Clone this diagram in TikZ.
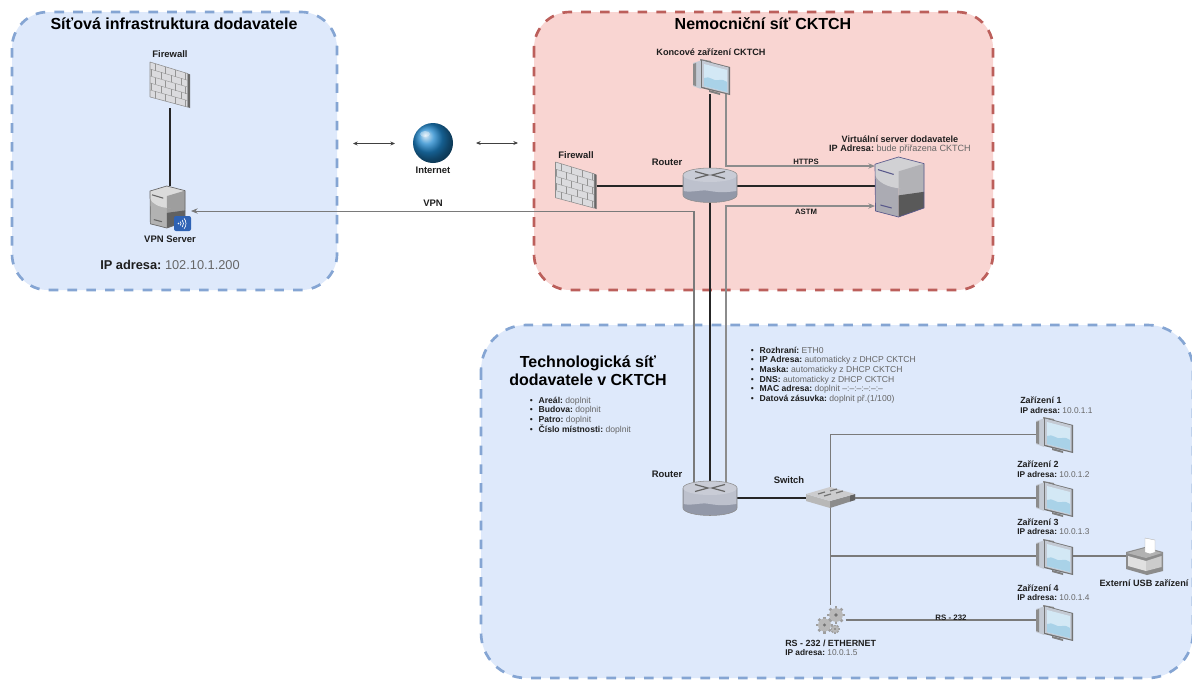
\documentclass[tikz,border=0pt]{standalone}
\usepackage{fontspec}
\setmainfont{Liberation Sans}
\usetikzlibrary{arrows.meta,calc}
\definecolor{blueFill}{HTML}{DEE9FB}
\definecolor{blueLine}{HTML}{85A5D3}
\definecolor{redFill}{HTML}{F9D5D2}
\definecolor{redLine}{HTML}{BC5F5B}
\definecolor{txtBold}{HTML}{1E1E1E}
\definecolor{txtGrey}{HTML}{666666}
\definecolor{wireDark}{HTML}{7A7A7A}
\definecolor{wireGrey}{HTML}{8C8C8C}
\definecolor{rtTop}{HTML}{C9CCD6}
\definecolor{rtBody}{HTML}{BDC1CD}
\definecolor{rtLow}{HTML}{9298A8}
\definecolor{scrA}{HTML}{D3E8F5}
\definecolor{scrB}{HTML}{A9D2E8}
\definecolor{frameC}{HTML}{C4CAD4}
\definecolor{globeC}{HTML}{1E86CC}
\definecolor{badgeC}{HTML}{2E62B4}
\newcommand{\fs}[1]{\fontsize{#1}{#1}\selectfont}
\newcommand{\kv}[2]{\textbf{\textcolor{txtBold}{#1:}}\ \textcolor{txtGrey}{#2}}
\newcommand{\bul}[2]{\textcolor{txtBold}{•}\hspace{4.4pt}\kv{#1}{#2}}
\newcommand{\srvshape}[5]{%
  \fill[#1] (0,12)--(48,22)--(48,100)--(1,90)--cycle;
  \fill[#3] (48,22)--(100,11)--(100,62)--(48,70)--cycle;
  \fill[#4] (48,64)--(100,58)--(100,85)--(48,100)--cycle;
  \fill[#2] (0,12)--(48,0)--(100,11)--(100,30)..controls (96,58) and (70,54) .. (48,52)..controls (25,50) and (6,42)..(0,30)--cycle;
  \fill[#3] (48,24)--(100,11)--(100,55)..controls (90,60) and (70,56)..(48,52)--cycle;
  \draw[#5,line width=.5pt,line join=round] (0,12)--(48,0)--(100,11)--(100,85)--(48,100)--(1,90)--cycle;
  \draw[#5,line width=.8pt] (6,21)--(38,29);
  \draw[#5,line width=.8pt] (11,80)--(34,85);
}
\tikzset{
  x=.75pt,y=-.75pt,
  zonebox/.style={line width=2pt,dash pattern=on 7.2pt off 6.9pt},
  ico/.style 2 args={rectangle,minimum width=#1*.75pt,minimum height=#2*.75pt,inner sep=0pt,outer sep=0pt},
  titletxt/.style={inner sep=0pt,text=black,align=center,font=\bfseries\fs{#1}},
  lbl/.style={inner sep=0pt,text=txtBold,font=\bfseries\fs{7.1}},
  lblS/.style={inner sep=0pt,text=txtBold,font=\bfseries\fs{6.85}},
  lblW/.style={inner sep=0pt,text=txtBold,font=\bfseries\fs{5.8}},
  lblL/.style={inner sep=0pt,anchor=west,align=left,text=txtBold,font=\bfseries\fs{6.7}},
  lblI/.style={inner sep=0pt,anchor=west,align=left,font=\fs{6.25}},
  plist/.style={inner sep=0pt,anchor=north west,align=left,font=\fontsize{6.45}{7.25}\selectfont},
  thick wire/.style={line width=1.5pt,draw=black!85},
  wire/.style={line width=.8pt,draw=wireDark},
  lite wire/.style={line width=.9pt,draw=wireGrey},
  arr wire/.style={line width=.7pt,draw=wireDark,-{Stealth[length=5pt,width=4pt,fill=black!85]}},
  both arr/.style={line width=.6pt,draw=black!75,{Stealth[length=3.5pt,width=3pt]}-{Stealth[length=3.5pt,width=3pt]}},
  monitorico/.pic={
    \fill[black!45] (7,0)--(18,2)--(18,4)--(7,2)--cycle;
    \fill[black!50] (16,31)--(27,34)--(27,36)--(16,33)--cycle;
    \fill[frameC] (0,4)--(8,1.5)--(8,30)--(0,27)--cycle;
    \fill[black!45] (0,5)--(3,4)--(3,27)--(0,26)--cycle;
    \fill[black!55] (8,.5)--(37,8)--(37,36)--(8,29)--cycle;
    \fill[frameC] (9,1.5)--(35.5,8.5)--(35.5,34.5)--(9,27.8)--cycle;
    \fill[scrA] (11,5)--(34,11)--(34,33)--(11,27)--cycle;
    \fill[scrB] (11,19)..controls (17,16) and (20,23) .. (26,21)..controls (30,20) and (32,22)..(34,23)--(34,33)--(11,27)--cycle;
  },
  firewallico/.pic={
    \fill[black!60] (94,25)--(100,27)--(100,100)--(94,98)--cycle;
    \fill[blue!8!black!14] (0,0)--(94,25)--(94,98)--(0,76)--cycle;
    \draw[black!45,line width=.4pt,line join=round] (0,0)--(94,25)--(94,98)--(0,76)--cycle;
    \foreach \r in {1,2,3,4} {\draw[black!42,line width=.3pt] (0,\r*15.2)--(94,\r*14.7+25);}
    \foreach \r/\o in {0/14,1/2,2/14,3/2,4/14} {
      \foreach \k in {0,1,2,3} {
        \pgfmathsetmacro{\xx}{\o+\k*25}
        \draw[black!42,line width=.3pt] (\xx,\r*15+.266*\xx)--(\xx,\r*15+15+.266*\xx);
      }
    }
  },
  routerico/.pic={
    \fill[rtLow] (0,7) -- (0,27) arc[start angle=180,end angle=360,x radius=27,y radius=-7.5] -- (54,7) -- cycle;
    \fill[rtBody] (.5,7) -- (.5,23) ..controls (10,25) and (18,21)..(27,23) ..controls (38,25) and (46,24)..(53.5,23)--(53.5,7)--cycle;
    \fill[rtTop] (27,7) ellipse[x radius=27,y radius=7];
    \draw[black!60,line width=.9pt] (12,3.5)--(25,7)--(12,10.5);
    \draw[black!60,line width=.9pt] (42,3.5)--(29,7)--(42,10.5);
    \draw[black!45,line width=.4pt] (0,7) -- (0,27) arc[start angle=180,end angle=360,x radius=27,y radius=-7.5] -- (54,7) arc[start angle=0,end angle=180,x radius=27,y radius=-7];
  },
  switchico/.pic={
    \fill[black!28] (0,7)--(24,14)--(24,21)--(0,14)--cycle;
    \fill[black!45] (24,14)--(49,7)--(49,13)--(24,21)--cycle;
    \fill[black!62] (44,8.5)--(49,7)--(49,13)--(44,14.5)--cycle;
    \fill[blue!4!black!20] (0,7)--(24,0)--(49,7)--(24,14)--cycle;
    \draw[black!55,line width=.9pt] (12,7)--(19,5) (24,4)--(31,2) (18,9)--(25,7) (30,6)--(37,4);
  },
  printerico/.pic={
    \fill[black!45] (0,14)--(19,9)--(37,14)--(37,33)--(21,37)--(0,31)--cycle;
    \fill[black!30] (1,15)--(19,10)--(36,15)--(20,20)--cycle;
    \fill[white] (19,0)--(29,2)--(29,14)--(24,15.5)--(19,14)--cycle;
    \draw[black!30,line width=.3pt] (19,14)--(19,0)--(29,2)--(29,14);
    \fill[black!12] (2,18)--(20,23)--(20,33)--(2,28)--cycle;
    \fill[black!20] (20,23)--(35.5,18)--(35.5,29)--(20,33)--cycle;
  },
  gearico/.pic={
    \foreach \a in {0,45,...,315} {\draw[black!38,line width=2pt] (0,0)--(\a:#1);}
    \fill[black!28] (0,0) circle[radius=#1*.76];
    \fill[black!55] (0,0) circle[radius=#1*.2];
  }
}
\begin{document}
\begin{tikzpicture}
\useasboundingbox (0,0) rectangle (1192,679);
\clip (0,0) rectangle (1192,679);
\fill[white] (0,0) rectangle (1192,679);
% zones
\draw[zonebox,fill=blueFill,draw=blueLine,rounded corners=27pt] (12,12) rectangle (337,290);
\draw[zonebox,fill=redFill,draw=redLine,rounded corners=27pt] (534,12) rectangle (993,290);
\draw[zonebox,fill=blueFill,draw=blueLine,rounded corners=34pt] (481,325) rectangle (1193,678);
% titles
\node[titletxt=12] (t1) at (174,24) {Síťová infrastruktura dodavatele};
\node[titletxt=12] (t2) at (763,24) {Nemocniční síť CKTCH};
\node[titletxt=12,font=\bfseries\fontsize{12}{13.4}\selectfont] (t3) at (588,371) {Technologická síť\\dodavatele v CKTCH};
% icon anchors
\node[ico={40}{46}] (fwA) at (170,85) {};
\node[ico={35}{42}] (vpn) at (167.5,207) {};
\node[ico={40}{40}] (net) at (433,143) {};
\node[ico={37}{35}] (monK) at (711.5,76.5) {};
\node[ico={41}{47}] (fwB) at (576,185.5) {};
\node[ico={54}{34}] (rtA) at (710,185) {};
\node[ico={49}{60}] (srv) at (899.5,187) {};
\node[ico={54}{34}] (rtB) at (710,498) {};
\node[ico={49}{21}] (sw) at (830.5,497.5) {};
\node[ico={37}{35}] (mon1) at (1054.5,434.5) {};
\node[ico={37}{35}] (mon2) at (1054.5,498.5) {};
\node[ico={37}{35}] (mon3) at (1054.5,556.5) {};
\node[ico={37}{35}] (mon4) at (1054.5,622.5) {};
\node[ico={37}{37}] (prn) at (1144.5,556.5) {};
\node[ico={30}{30}] (gear) at (830.5,619.5) {};
% connector helper points
\coordinate (netL) at (395,143.5);
\coordinate (netLL) at (353,143.5);
\coordinate (netR) at (476,143);
\coordinate (netRR) at (518,143);
\coordinate (httpsA) at (726,94);
\coordinate (httpsB) at (875,166);
\coordinate (astmA) at (726,482);
\coordinate (astmB) at (875,206);
\coordinate (vpnA) at (694,482);
\coordinate (vpnB) at (191,211);
\coordinate (monIn4) at (1036,620);
\coordinate (trunkA) at (830.5,556);
\coordinate (rowA) at (710,186);
\coordinate (rowB) at (710,498);
% connectors
\draw[thick wire] (fwA.south) -- (fwA.south |- vpn.north);
\draw[both arr] (netLL) -- (netL);
\draw[both arr] (netR) -- (netRR);
\draw[thick wire] (rtA.north |- monK.south) -- (rtA.north);
\draw[thick wire] (rtA.south) -- (rtB.north);
\draw[thick wire] (fwB.east |- rowA) -- (rtA.west |- rowA);
\draw[thick wire] (rtA.east |- rowA) -- (srv.west |- rowA);
\draw[thick wire] (rtB.east |- rowB) -- (sw.west |- rowB);
\draw[lite wire,-{Stealth[length=5pt,width=4pt,fill=black!85]}] (httpsA) |- (httpsB);
\draw[lite wire,-{Stealth[length=5pt,width=4pt,fill=black!85]}] (astmA) |- (astmB);
\draw[lite wire,draw=wireDark] (vpnA) -- (vpnA |- vpnB);
\draw[arr wire] (vpnA |- vpnB) -- (vpnB);
\draw[wire] (sw.north) |- (mon1.west);
\draw[wire] (sw.east |- rowB) -- (mon2.west |- rowB);
\draw[wire] (sw.south) -- (gear.north);
\draw[wire] (trunkA) -- (mon3.west |- trunkA);
\draw[wire] (mon3.east |- trunkA) -- (prn.west |- trunkA);
\draw[wire] (gear.east |- monIn4) -- (monIn4);
% icons
\pic[xscale=.4,yscale=.46] at (fwA.north west) {firewallico};
\pic[xscale=.41,yscale=.47] at (fwB.north west) {firewallico};
\begin{scope}[shift={(vpn.north west)},xscale=.35,yscale=.42]
 \srvshape{black!30}{black!14}{black!38}{black!62}{black!60}
\end{scope}
\begin{scope}[shift={(srv.north west)},xscale=.49,yscale=.60]
 \srvshape{blue!10!black!33}{blue!7!black!18}{blue!4!black!30}{black!65}{blue!30!black!65}
\end{scope}
\fill[badgeC,rounded corners=1.5pt] (174,216) rectangle (191,231);
\fill[white] (178.5,223.5) circle[radius=.9];
\draw[white,line width=.5pt] (180.3,221.6) arc[start angle=-40,end angle=40,radius=3] (182.2,220) arc[start angle=-40,end angle=40,radius=5.5] (184.1,218.4) arc[start angle=-40,end angle=40,radius=8];
\pic at (monK.north west) {monitorico};
\pic at (mon1.north west) {monitorico};
\pic at (mon2.north west) {monitorico};
\pic at (mon3.north west) {monitorico};
\pic at (mon4.north west) {monitorico};
\pic at (rtA.north west) {routerico};
\pic at (rtB.north west) {routerico};
\pic at (sw.north west) {switchico};
\pic at (prn.north west) {printerico};
\pic at (824.5,625) {gearico=8.5};
\pic at (836,615) {gearico=9};
\pic at (835,629) {gearico=4.5};
\shade[ball color=globeC] (net.center) circle[radius=20];
\fill[white,opacity=.35] (425,134) ellipse[x radius=5,y radius=3];
% labels
\node[lbl] (lFw1) at (170,54) {Firewall};
\node[lbl] (lVpnS) at (170,239) {VPN Server};
\node[inner sep=0pt,font=\fs{9.6}] (lIp) at (170,265) {\kv{IP adresa}{102.10.1.200}};
\node[lbl] (lNet) at (433,170) {Internet};
\node[lbl] (lVpn) at (433,203) {VPN};
\node[lblS] (lKon) at (711,52) {Koncové zařízení CKTCH};
\node[lbl] (lFw2) at (576,155) {Firewall};
\node[lbl] (lRt1) at (667,162) {Router};
\node[lblW] (lHttps) at (806,162) {HTTPS};
\node[lblW] (lAstm) at (806,212) {ASTM};
\node[lblS] (lV1) at (900,139) {Virtuální server dodavatele};
\node[inner sep=0pt,font=\fs{6.8}] (lV2) at (900,149) {\kv{IP Adresa}{bude přiřazena CKTCH}};
\node[plist] (lB1) at (529.5,396.5) {\bul{Areál}{doplnit}\\\bul{Budova}{doplnit}\\\bul{Patro}{doplnit}\\\bul{Číslo místnosti}{doplnit}};
\node[plist] (lB2) at (750.5,346.5) {\bul{Rozhraní}{ETH0}\\\bul{IP Adresa}{automaticky z DHCP CKTCH}\\\bul{Maska}{automaticky z DHCP CKTCH}\\\bul{DNS}{automaticky z DHCP CKTCH}\\\bul{MAC adresa}{doplnit --:--:--:--:--:--}\\\bul{Datová zásuvka}{doplnit př.(1/100)}};
\node[lbl] (lRt2) at (667,474) {Router};
\node[lbl] (lSw) at (789,480) {Switch};
\node[lblL] (lD1) at (1020,400) {Zařízení 1};
\node[lblI] (lD1i) at (1020,411) {\kv{IP adresa}{10.0.1.1}};
\node[lblL] (lD2) at (1017,464) {Zařízení 2};
\node[lblI] (lD2i) at (1017,475) {\kv{IP adresa}{10.0.1.2}};
\node[lblL] (lD3) at (1017,522) {Zařízení 3};
\node[lblI] (lD3i) at (1017,532) {\kv{IP adresa}{10.0.1.3}};
\node[lblL] (lD4) at (1017,588) {Zařízení 4};
\node[lblI] (lD4i) at (1017,598) {\kv{IP adresa}{10.0.1.4}};
\node[lblS] (lUsb) at (1144,583) {Externí USB zařízení};
\node[lblW,font=\bfseries\fs{5.9}] (lRs) at (951,618) {RS - 232};
\node[lblL] (lRe) at (785,643) {RS - 232 / ETHERNET};
\node[lblI] (lRei) at (785,653) {\kv{IP adresa}{10.0.1.5}};
\end{tikzpicture}
\end{document}
